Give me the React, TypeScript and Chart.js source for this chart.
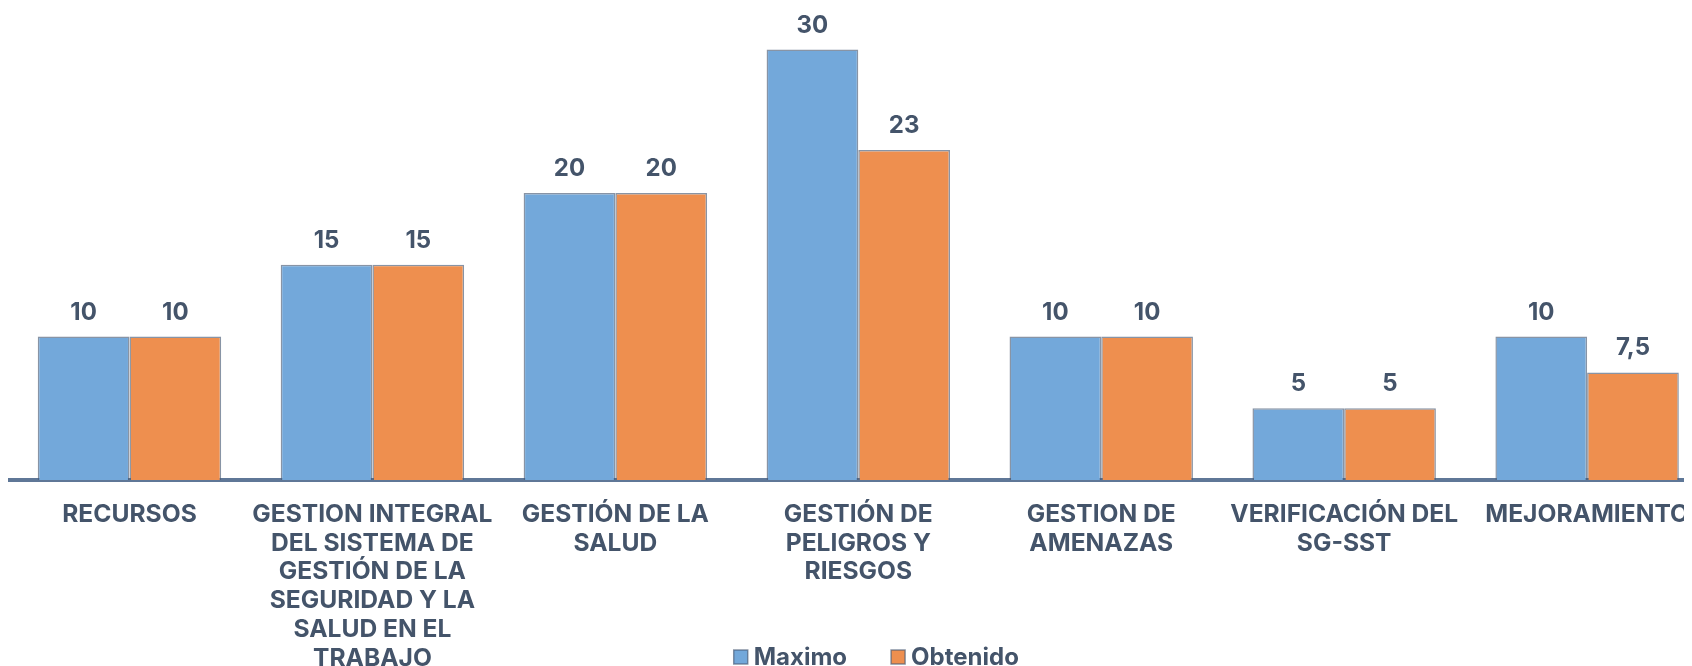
import React, { useEffect, useRef } from 'react';
import { Chart, registerables } from 'chart.js';

Chart.register(...registerables);

const categories: string[][] = [
  ['RECURSOS'],
  ['GESTION INTEGRAL', 'DEL SISTEMA DE', 'GESTIÓN DE LA', 'SEGURIDAD Y LA', 'SALUD EN EL', 'TRABAJO'],
  ['GESTIÓN DE LA', 'SALUD'],
  ['GESTIÓN DE', 'PELIGROS Y', 'RIESGOS'],
  ['GESTION DE', 'AMENAZAS'],
  ['VERIFICACIÓN DEL', 'SG-SST'],
  ['MEJORAMIENTO'],
];
const maximo = [10, 15, 20, 30, 10, 5, 10];
const obtenido = [10, 15, 20, 23, 10, 5, 7.5];
const seriesNames = ['Maximo', 'Obtenido'];

const FONT = 'Inter';
const TEXT = '#44546A';
const BLUE = '#73A8DA';
const ORANGE = '#EE8F4F';
const BAR_BORDER = 'rgba(72,90,116,0.65)';

const valueLabels = {
  id: 'valueLabels',
  afterDatasetsDraw(chart: any) {
    const ctx = chart.ctx;
    ctx.save();
    ctx.font = `700 24px ${FONT}`;
    ctx.fillStyle = TEXT;
    ctx.textAlign = 'center';
    ctx.textBaseline = 'alphabetic';
    chart.data.datasets.forEach((ds: any, di: number) => {
      const meta = chart.getDatasetMeta(di);
      meta.data.forEach((el: any, i: number) => {
        const v = ds.data[i];
        ctx.fillText(String(v).replace('.', ','), el.x, el.y - 17);
      });
    });
    ctx.restore();
  },
};

const bottomLegend = {
  id: 'bottomLegend',
  afterDraw(chart: any) {
    const ctx = chart.ctx;
    ctx.save();
    ctx.font = `700 24px ${FONT}`;
    const box = 14;
    const gap = 6;
    const itemGap = 44;
    const items = chart.data.datasets.map((ds: any) => ({
      label: ds.label,
      fill: ds.backgroundColor,
      w: ctx.measureText(ds.label).width,
    }));
    const total =
      items.reduce((s: number, it: any) => s + box + gap + it.w, 0) + itemGap * (items.length - 1);
    const cx = (chart.chartArea.left + chart.chartArea.right) / 2 + 18;
    let x = cx - total / 2;
    const base = chart.height - 1;
    items.forEach((it: any) => {
      ctx.fillStyle = it.fill;
      ctx.fillRect(x, base - 15, box, box);
      ctx.strokeStyle = BAR_BORDER;
      ctx.lineWidth = 1.5;
      ctx.strokeRect(x, base - 15, box, box);
      ctx.fillStyle = TEXT;
      ctx.textAlign = 'left';
      ctx.textBaseline = 'alphabetic';
      ctx.fillText(it.label, x + box + gap, base);
      x += box + gap + it.w + itemGap;
    });
    ctx.restore();
  },
};

export default function App() {
  const canvasRef = useRef<HTMLCanvasElement | null>(null);

  useEffect(() => {
    document.documentElement.style.overflow = 'hidden';
    const canvas = canvasRef.current;
    if (!canvas) return;
    const chart = new Chart(canvas, {
      type: 'bar',
      data: {
        labels: categories,
        datasets: [
          {
            label: seriesNames[0],
            data: maximo,
            backgroundColor: BLUE,
            borderColor: BAR_BORDER,
            borderWidth: 1.5,
            barPercentage: 1,
            categoryPercentage: 0.755,
          },
          {
            label: seriesNames[1],
            data: obtenido,
            backgroundColor: ORANGE,
            borderColor: BAR_BORDER,
            borderWidth: 1.5,
            barPercentage: 1,
            categoryPercentage: 0.755,
          },
        ],
      },
      options: {
        animation: false,
        responsive: true,
        maintainAspectRatio: false,
        layout: { padding: 0 },
        plugins: {
          legend: { display: false },
          tooltip: { enabled: false },
        },
        scales: {
          x: {
            offset: true,
            grid: { display: false, drawTicks: false },
            border: { display: true, color: '#5F7797', width: 4 },
            ticks: {
              color: TEXT,
              font: { family: FONT, size: 24.6, weight: 700, lineHeight: 1.17 },
              padding: 20,
              maxRotation: 0,
              minRotation: 0,
              autoSkip: false,
            },
            afterFit: (s: any) => {
              s.height = 186;
            },
          },
          y: {
            display: false,
            min: 0,
            max: 32.9,
          },
        },
      },
      plugins: [valueLabels, bottomLegend],
    });
    if ((document as any).fonts && (document as any).fonts.load) {
      (document as any).fonts.load(`700 24px ${FONT}`).then(() => chart.update()).catch(() => {});
    }
    return () => chart.destroy();
  }, []);

  return (
    <div style={{ width: 1684, overflow: 'hidden' }}>
      <div style={{ position: 'relative', width: 1701, height: 658 }}>
        <canvas ref={canvasRef} />
      </div>
    </div>
  );
}
